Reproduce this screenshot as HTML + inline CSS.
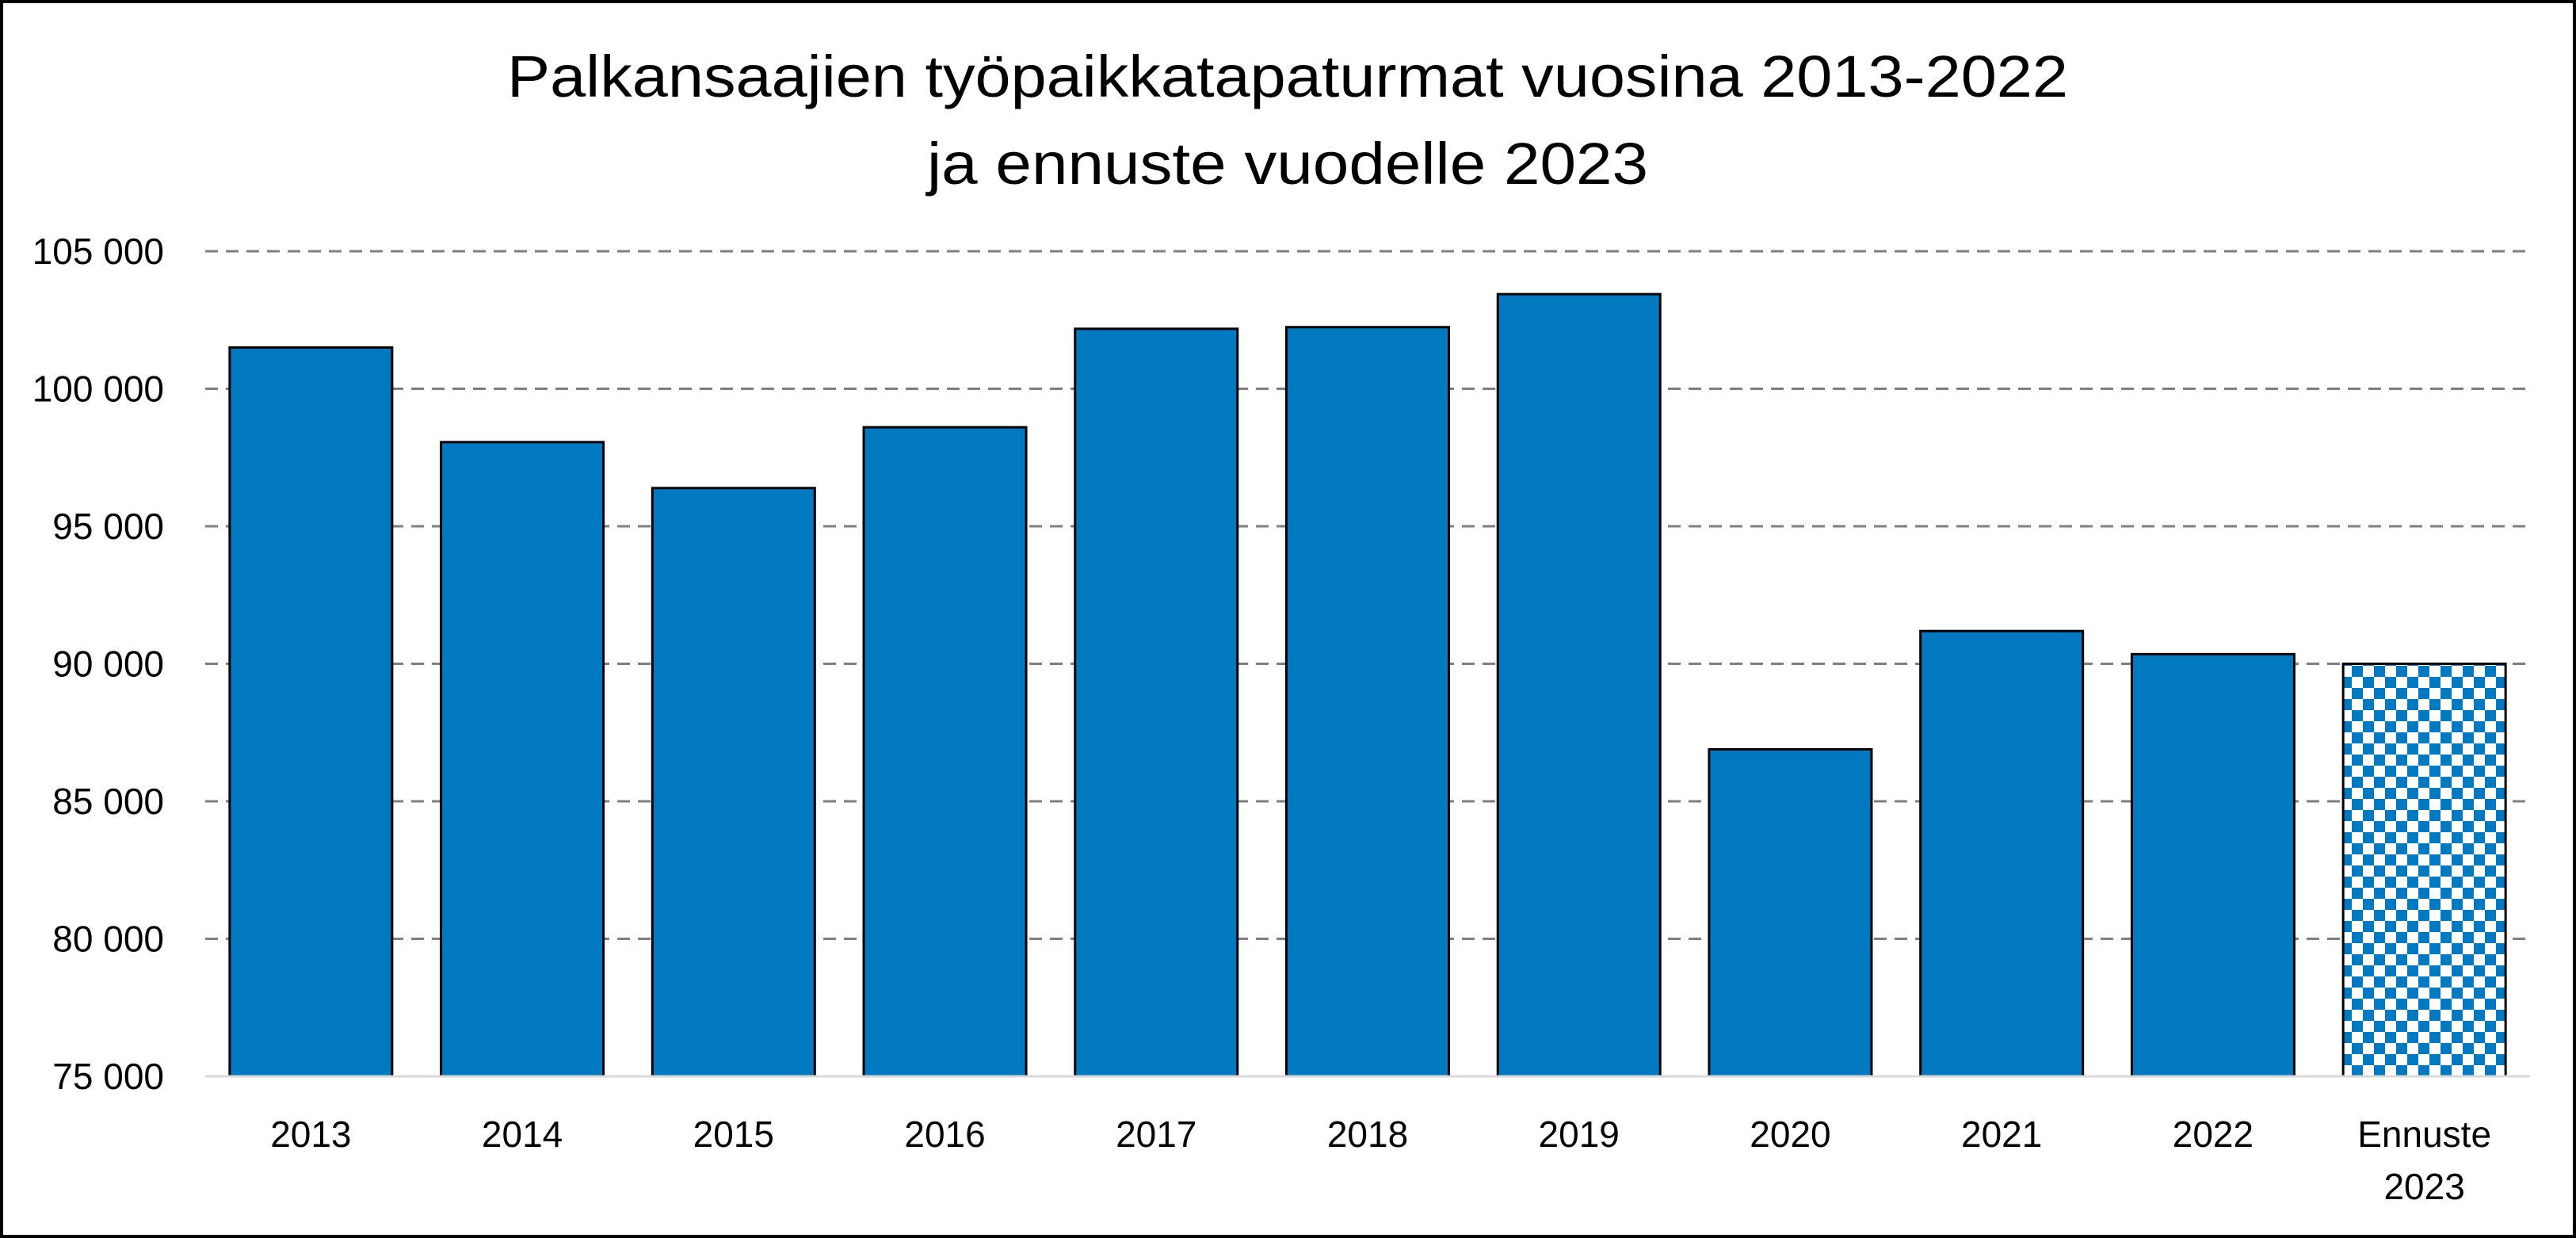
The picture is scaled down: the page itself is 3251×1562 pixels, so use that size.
<!DOCTYPE html>
<html><head><meta charset="utf-8"><style>
html,body{margin:0;padding:0;background:#fff;}
svg{display:block;font-family:"Liberation Sans",sans-serif;}
</style></head><body>
<svg id="chart" width="3251" height="1562" viewBox="0 0 3251 1562" xmlns="http://www.w3.org/2000/svg">
<defs>
<pattern id="checker" width="28" height="28" patternUnits="userSpaceOnUse">
<rect width="28" height="28" fill="#fff"/>
<rect width="14" height="14" fill="#0079c1"/>
<rect x="14" y="14" width="14" height="14" fill="#0079c1"/>
</pattern>
</defs>
<rect x="2" y="2" width="3247" height="1558" fill="#fff" stroke="#000" stroke-width="4"/>
<g font-size="74" text-anchor="middle" fill="#000">
<text x="1625" y="122" textLength="1970" lengthAdjust="spacingAndGlyphs">Palkansaajien työpaikkatapaturmat vuosina 2013-2022</text>
<text x="1625" y="232" textLength="910" lengthAdjust="spacingAndGlyphs">ja ennuste vuodelle 2023</text>
</g>
<g id="grid"></g>
<g id="bars"></g>
<g id="ylabels"></g>
<g id="xlabels"></g>
</svg>
<script>
const categories = ["2013","2014","2015","2016","2017","2018","2019","2020","2021","2022","Ennuste|2023"];
const values = [101500,98060,96390,98600,102180,102240,103440,86890,91190,90350,90000];
const forecast = [false,false,false,false,false,false,false,false,false,false,true];
const yTicks = [75000,80000,85000,90000,95000,100000,105000];
const yTickLabels = ["75 000","80 000","85 000","90 000","95 000","100 000","105 000"];

const NS="http://www.w3.org/2000/svg";
const left=259, right=3193, yMin=75000, yMax=105000, yBottom=1358, yTop=317;
const y = v => yBottom - (v-yMin)/(yMax-yMin)*(yBottom-yTop);
const band=(right-left)/categories.length;
const xc = i => left + band*(i+0.5);
const bw = 205;
function mk(tag, attrs, parent){const e=document.createElementNS(NS,tag);for(const k in attrs)e.setAttribute(k,attrs[k]);parent.appendChild(e);return e;}
const grid=document.getElementById('grid'), bars=document.getElementById('bars'), yl=document.getElementById('ylabels'), xl=document.getElementById('xlabels');
yTicks.forEach((t,i)=>{
  if(t!==yMin){
    const l=mk('line',{x1:left,x2:right,y1:y(t),y2:y(t),stroke:'#7f7f7f','stroke-width':3,'stroke-dasharray':'16 10'},grid);
    
    
  }
  const tx=mk('text',{x:207,y:y(t)+16,'font-size':46,'text-anchor':'end',fill:'#000'},yl);
  tx.textContent=yTickLabels[i];
  
  
});
values.forEach((v,i)=>{
  const r=mk('rect',{x:xc(i)-bw/2,y:y(v),width:bw,height:yBottom-y(v),fill:forecast[i]?'url(#checker)':'#0079c1',stroke:'#000','stroke-width':3},bars);
  
  
  const lines=categories[i].split('|');
  lines.forEach((s,j)=>{
    const t=mk('text',{x:xc(i),y:1447+j*66,'font-size':46,'text-anchor':'middle',fill:'#000'},xl);
    t.textContent=s;
    
    
  });
});
const ax=mk('line',{x1:left,x2:right,y1:yBottom,y2:yBottom,stroke:'#d9d9d9','stroke-width':3},document.getElementById('chart'));


</script>
</body></html>
